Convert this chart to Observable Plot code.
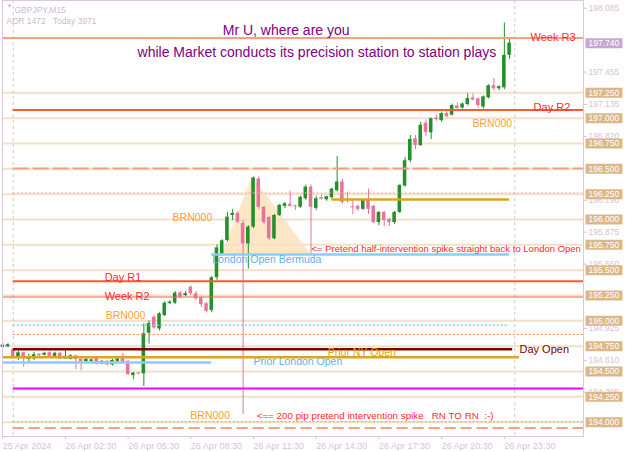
<!DOCTYPE html>
<html><head><meta charset="utf-8">
<script src="https://cdn.jsdelivr.net/npm/d3@7"></script>
<script src="https://cdn.jsdelivr.net/npm/@observablehq/plot@0.6"></script>
<style>
html,body{margin:0;padding:0;background:#fff;}
#chart svg{display:block;}
</style></head><body><div id="chart"></div>
<script>
// ---- candle data (GBPJPY M15, bar 0 = 25 Apr 23:30) ----
const opens = [194.74,194.745,194.714,194.648,194.685,194.62,194.625,194.67,194.66,194.685,
194.65,194.68,194.625,194.62,194.655,194.62,194.595,194.60,194.64,194.575,
194.60,194.565,194.60,194.625,194.60,194.46,194.485,194.477,194.878,195.036,
194.92,195.053,195.17,195.175,195.276,195.25,195.332,195.267,195.227,195.168,
195.102,195.428,195.66,195.793,196.04,196.06,195.96,195.76,195.925,196.40,
196.12,196.02,195.81,196.04,196.13,196.15,196.135,196.12,196.205,196.32,
196.11,196.215,196.195,196.215,196.285,196.37,196.20,196.125,196.13,196.10,
196.19,196.13,195.97,196.07,196.00,195.97,196.07,196.33,196.58,196.796,
196.73,196.95,196.855,197.00,196.975,197.045,197.03,197.12,197.10,197.135,
197.20,197.19,197.11,197.20,197.32,197.29,197.30,197.62];
const highs = [194.78,194.775,194.724,194.70,194.69,194.67,194.69,194.675,194.69,194.695,
194.69,194.69,194.724,194.665,194.66,194.625,194.63,194.625,194.65,194.61,
194.61,194.62,194.635,194.68,194.61,194.49,194.49,194.97,195.00,195.05,
195.08,195.19,195.20,195.29,195.29,195.29,195.345,195.29,195.24,195.18,
195.44,195.75,195.80,196.072,196.10,196.08,195.99,195.94,196.42,196.42,
196.13,196.03,196.05,196.15,196.17,196.28,196.14,196.23,196.34,196.34,
196.23,196.24,196.23,196.31,196.62,196.40,196.27,196.19,196.14,196.20,
196.30,196.14,196.08,196.08,196.01,196.08,196.345,196.61,196.83,196.83,
196.96,196.98,197.00,197.03,197.06,197.06,197.14,197.15,197.15,197.24,
197.24,197.20,197.22,197.33,197.39,197.32,197.94,197.79];
const lows = [194.73,194.735,194.62,194.61,194.543,194.59,194.61,194.65,194.655,194.645,
194.645,194.62,194.62,194.615,194.52,194.51,194.58,194.58,194.565,194.565,
194.555,194.555,194.59,194.57,194.46,194.42,194.47,194.352,194.77,194.92,
194.90,195.04,195.16,195.16,195.22,195.24,195.25,195.20,195.13,195.08,
195.08,195.40,195.655,195.78,195.99,195.96,194.076,195.51,195.91,196.10,
195.95,195.79,195.80,196.03,196.11,196.12,196.09,196.11,196.19,195.66,
196.09,196.19,196.18,196.20,196.27,196.15,196.16,196.05,196.08,196.09,
196.05,195.96,195.94,195.93,195.93,195.95,196.06,196.32,196.56,196.69,
196.72,196.82,196.79,196.97,196.96,197.00,197.02,197.09,197.09,197.12,
197.17,197.10,197.09,197.19,197.27,197.27,197.28,197.58];
const closes = [194.76,194.765,194.648,194.685,194.627,194.633,194.665,194.655,194.68,194.65,
194.68,194.625,194.65,194.655,194.62,194.595,194.62,194.615,194.575,194.60,
194.565,194.61,194.625,194.585,194.47,194.485,194.475,194.872,194.975,194.93,
195.07,195.174,195.185,195.273,195.233,195.268,195.267,195.218,195.16,195.095,
195.425,195.72,195.79,196.023,196.06,195.975,195.76,195.925,196.41,196.12,
195.97,195.81,196.04,196.14,196.155,196.13,196.125,196.22,196.32,196.12,
196.205,196.20,196.225,196.30,196.37,196.17,196.185,196.115,196.10,196.19,
196.10,195.97,196.07,195.99,195.97,196.07,196.335,196.58,196.79,196.73,
196.93,196.86,196.995,196.985,197.045,197.015,197.125,197.095,197.14,197.195,
197.18,197.125,197.21,197.32,197.29,197.31,197.62,197.74];

// ---- axes ----
const tickBars = [0,12,24,36,48,60,72,84,96];
const tickLabels = ["25 Apr 2024","26 Apr 02:30","26 Apr 05:30","26 Apr 08:30","26 Apr 11:30","26 Apr 14:30","26 Apr 17:30","26 Apr 20:30","26 Apr 23:30"];
const priceTicks = [198.085,197.455,197.135,196.820,196.190,195.875,195.560,194.925,194.610,194.295];
const roundLevels = [197.25,197.00,196.75,196.50,196.25,196.00,195.75,195.50,195.25,195.00,194.75,194.50,194.25,194.00];
const currentPrice = 197.740;
const daySeparators = [2, 98];

// ---- level lines ----
const levelNames  = ["Week R3","Day R2","Dash 196.5","Dot 196.25","NY segment","London Open Bermuda","Day R1","Week R2","Dot cyan","Dot coral","Day Open","Prior NY Open","Prior London Open","Magenta","Dot green","Dash low"];
const levelPrices = [197.791,197.08,196.503,196.262,196.197,195.655,195.391,195.235,194.957,194.865,194.72,194.641,194.589,194.332,194.005,193.942];
const levelStart  = [-0.05,2,2,2,63,40,2,-0.05,2,2,2,0,0,2,2,2];
const levelEnd    = [111.15,111.15,111.15,111.15,97,97,111.15,111.15,97,111.15,97.6,98.9,40,111.15,111.15,111.15];

// ---- shaded triangle ----
const triBars = [42.0, 47.8, 58.9];
const triPrices = [195.66, 196.42, 195.66];

// ---- annotations ----
const noteTexts = ["Mr U, where are you","while Market conducts its precision station to station plays",
 "Week R3","Day R2","Day R1","Week R2","Day Open","Prior NY Open","Prior London Open","London Open Bermuda",
 "<= Pretend half-intervention spike straight back to London Open",
 "<== 200 pip pretend intervention spike \u00a0\u00a0RN TO RN \u00a0:-)",
 "BRN000","BRN000","BRN000","BRN000"];
const noteBars   = [42.1,25.8,101.0,101.6,19.5,19.5,98.9,62.2,48.0,40.1,59.1,48.6,32.5,19.7,35.9,89.9];
const notePrices = [197.865,197.648,197.796,197.105,195.428,195.24,194.717,194.687,194.60,195.605,195.714,194.066,196.02,195.053,194.066,196.947];

// ---- styles (kept separate from data) ----
const levelStyle = {
  "Week R3": {stroke:"#ffa07a", w:2},
  "Day R2": {stroke:"#ff5a2a", w:2},
  "Dash 196.5": {stroke:"#f4a07c", w:2, dash:"16,4"},
  "Dot 196.25": {stroke:"#f6aaa0", w:1, dash:"2,2"},
  "NY segment": {stroke:"#daa520", w:2.5},
  "London Open Bermuda": {stroke:"#87cefa", w:2.5},
  "Day R1": {stroke:"#ff5a2a", w:2},
  "Week R2": {stroke:"#ff6347", w:1},
  "Dot cyan": {stroke:"#87ceeb", w:1.5, dash:"2,2"},
  "Dot coral": {stroke:"#ff7f50", w:1, dash:"2,2"},
  "Day Open": {stroke:"#800000", w:2.5},
  "Prior NY Open": {stroke:"#daa520", w:2.5},
  "Prior London Open": {stroke:"#87cefa", w:2.5},
  "Magenta": {stroke:"#ff00ff", w:2},
  "Dot green": {stroke:"#9acd32", w:1, dash:"2,2"},
  "Dash low": {stroke:"#f7a07e", w:2, dash:"11,5"}
};
const noteStyle = [
  {fill:"#800080", size:14},
  {fill:"#800080", size:14},
  {fill:"#ff2a2a", size:11},
  {fill:"#ff2a2a", size:11},
  {fill:"#ff2a2a", size:11},
  {fill:"#ff2a2a", size:11},
  {fill:"#800000", size:11},
  {fill:"#daa520", size:10.5},
  {fill:"#5fb0f0", size:10.5},
  {fill:"#5fb0f0", size:10.5},
  {fill:"#ff2a2a", size:9.5},
  {fill:"#ff2a2a", size:9.8},
  {fill:"#ffa030", size:10.5},
  {fill:"#ffa030", size:10.5},
  {fill:"#ffa030", size:10.5},
  {fill:"#ffa030", size:10.5}
];

const FONT = "'Liberation Sans', Arial, sans-serif";
const bull = "#23902a", bear = "#e8739b";
const axisColor = "#d9bfd9";

const candles = opens.map((o, i) => ({i, o, h: highs[i], l: lows[i], c: closes[i]}));
const levels = levelNames.map((n, k) => ({n, p: levelPrices[k], x1: levelStart[k], x2: levelEnd[k]}));
const notes = noteTexts.map((t, k) => ({t, x: noteBars[k], y: notePrices[k], k}));
const tri = triBars.map((x, k) => ({x, y: triPrices[k], base: triPrices[0]}));

const boxSymbol = {draw(ctx) { ctx.moveTo(2, -5); ctx.lineTo(39, -5); ctx.lineTo(39, 5); ctx.lineTo(2, 5); ctx.closePath(); }};

const levelMarks = levelNames.map(n => {
  const s = levelStyle[n];
  return Plot.ruleY(levels.filter(d => d.n === n), {y: "p", x1: "x1", x2: "x2", stroke: s.stroke, strokeWidth: s.w, strokeDasharray: s.dash || null});
});

const noteMarks = notes.map(d => Plot.text([d], {x: "x", y: "y", text: "t", fill: noteStyle[d.k].fill, fontSize: noteStyle[d.k].size, textAnchor: "start", fontFamily: FONT}));

const chart = Plot.plot({
  width: 625, height: 451,
  marginLeft: 2, marginRight: 42, marginTop: 0, marginBottom: 15,
  x: {domain: [-0.05, 111.15], axis: null},
  y: {domain: [193.859, 198.161], axis: null},
  style: {fontFamily: FONT, background: "#ffffff", overflow: "visible"},
  marks: [
    Plot.areaY(tri, {x: "x", y1: "base", y2: "y", fill: "#fde3bd", fillOpacity: 0.85}),
    Plot.ruleY(roundLevels, {stroke: "#f4e0c8", strokeWidth: 2}),
    Plot.ruleX(daySeparators, {stroke: "#c8c8c8", strokeDasharray: "3,3"}),
    Plot.ruleX(candles, {x: "i", y1: "l", y2: "h", stroke: d => d.c >= d.o ? bull : bear, strokeWidth: 1}),
    Plot.rect(candles, {x1: d => d.i - 0.34, x2: d => d.i + 0.34, y1: d => Math.min(d.o, d.c), y2: d => Math.max(d.o, d.c), fill: d => d.c >= d.o ? bull : bear}),
    ...levelMarks,
    Plot.axisY({anchor: "right", ticks: priceTicks, tickFormat: d3.format(".3f"), tickSize: 3, tickPadding: 2, color: axisColor, fontSize: 8.5}),
    Plot.dot(roundLevels, {y: d => d, frameAnchor: "right", symbol: boxSymbol, fill: "#dcb887", stroke: null, r: 1}),
    Plot.text(roundLevels, {y: d => d, frameAnchor: "right", dx: 5, textAnchor: "start", text: d => d3.format(".3f")(d), fill: "#ffffff", fontSize: 8.5}),
    Plot.dot([currentPrice], {y: d => d, frameAnchor: "right", symbol: boxSymbol, fill: "#c7a7d4", stroke: null, r: 1}),
    Plot.text([currentPrice], {y: d => d, frameAnchor: "right", dx: 5, textAnchor: "start", text: d => d3.format(".3f")(d), fill: "#ffffff", fontSize: 8.5}),
    Plot.axisX({ticks: tickBars, tickFormat: d => tickLabels[tickBars.indexOf(d)], tickSize: 3, tickPadding: 3, textAnchor: "start", dx: 0, color: axisColor, fontSize: 9}),
    Plot.frame({stroke: "#dcc6e0"}),
    ...noteMarks,
    Plot.text(["\u25BC"], {frameAnchor: "top-left", dx: 4, dy: 3, text: d => d, fill: "#d2b8d2", fontSize: 6, textAnchor: "start"}),
    Plot.text(["GBPJPY,M15"], {frameAnchor: "top-left", dx: 12, dy: 6, text: d => d, fill: "#d2b8d2", fontSize: 8.5, textAnchor: "start"}),
    Plot.text(["ADR 1472   Today 3971"], {frameAnchor: "top-left", dx: 4, dy: 17, text: d => d, fill: "#d2b8d2", fontSize: 8.5, textAnchor: "start"})
  ]
});
document.getElementById("chart").appendChild(chart);
</script>
</body></html>
